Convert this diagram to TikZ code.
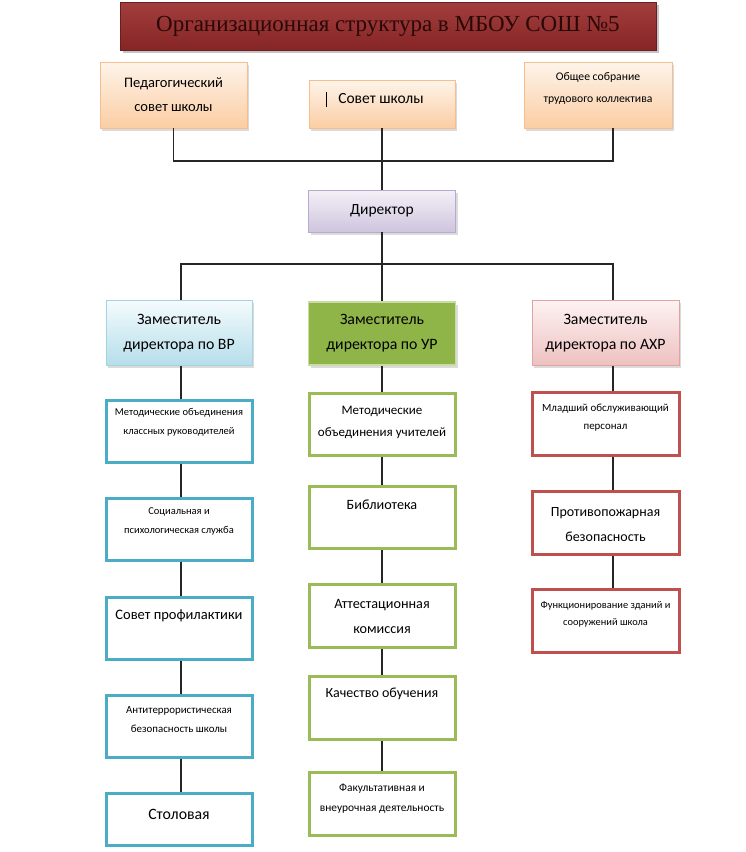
\documentclass[tikz,border=0pt]{standalone}
\usepackage{fontspec}
\setmainfont{Carlito}
\newfontfamily\titlefont{Liberation Serif}
\usetikzlibrary{shadows,calc}
\definecolor{peachA}{HTML}{FEF4EA}
\definecolor{peachB}{HTML}{FBCDA3}
\definecolor{peachD}{HTML}{F6BE8E}
\definecolor{lavA}{HTML}{F3F0F7}
\definecolor{lavB}{HTML}{CFC5DE}
\definecolor{lavD}{HTML}{B9AACD}
\definecolor{bluA}{HTML}{F4FBFD}
\definecolor{bluB}{HTML}{B5DEEA}
\definecolor{bluD}{HTML}{A2D4E2}
\definecolor{redA}{HTML}{FDF2F2}
\definecolor{redB}{HTML}{EDC1C0}
\definecolor{redD}{HTML}{DFA3A1}
\definecolor{grnF}{HTML}{8FB548}
\definecolor{grnD}{HTML}{C9DCA3}
\definecolor{ttlA}{HTML}{A23E3D}
\definecolor{ttlB}{HTML}{862525}
\definecolor{ttlT}{HTML}{2A0808}
\definecolor{cB}{HTML}{4BACC6}
\definecolor{cG}{HTML}{9BBB59}
\definecolor{cR}{HTML}{C0504D}
\newcommand{\fs}[2]{\fontsize{#1}{#2}\selectfont}
\begin{document}
\begin{tikzpicture}[x=1pt,y=-1pt,
  ln/.style={line width=1.4pt, black!85},
  sz/.style 2 args={minimum width=#1, minimum height=#2, inner sep=0pt, align=center},
  shad/.style={drop shadow={opacity=0.28, shadow xshift=2pt, shadow yshift=-2.5pt}},
  topbox/.style={draw=peachD, line width=0.8pt, top color=peachA, bottom color=peachB, shad},
  dirbox/.style={draw=lavD, line width=0.8pt, top color=lavA, bottom color=lavB, shad},
  vrbox/.style={draw=bluD, line width=0.8pt, top color=bluA, bottom color=bluB, shad},
  axbox/.style={draw=redD, line width=0.8pt, top color=redA, bottom color=redB, shad},
  urbox/.style={draw=grnD, line width=1.5pt, fill=grnF, shad},
  bbox/.style={draw=cB, line width=3pt, fill=white},
  gbox/.style={draw=cG, line width=3pt, fill=white},
  rbox/.style={draw=cR, line width=3pt, fill=white},
  lbl/.style={fill=none, draw=none, align=center, inner sep=0pt}
]
\useasboundingbox (0,0) rectangle (746,852);
\fill[white] (0,0) rectangle (746,852);

% title
\node[sz={536pt}{48pt}, top color=ttlA, bottom color=ttlB, draw=ttlB!80!black, line width=0.6pt,
  drop shadow={opacity=0.45, shadow xshift=3pt, shadow yshift=-3pt},
  text=ttlT, font=\titlefont\fs{23}{26}] (title) at (388,26) {Организационная структура в МБОУ СОШ №5};

% top row
\node[topbox, sz={147pt}{66pt}, font=\fs{14.5}{24}] (ped) at (173.5,95) {Педагогический\\совет школы};
\node[topbox, sz={146pt}{48pt}] (sov) at (382,104) {};
\node[lbl, font=\fs{15.5}{24}] (sovt) at (381,99) {Совет школы};
\draw[line width=1.6pt, black] ($(sov.north west)+(18,12)$) -- ($(sov.north west)+(18,27)$);
\node[topbox, sz={148pt}{66pt}] (obs) at (598,95) {};
\node[lbl, font=\fs{11.7}{22}] (obst) at (598,88) {Общее собрание\\трудового коллектива};

\coordinate (busA) at (382,161);
\coordinate (xR) at (613,0);
\draw[ln] (ped.south) -- (ped.south |- busA) -- (xR |- busA) -- (xR |- obs.south);
\draw[ln] (sov.south) -- (busA);

% director
\node[dirbox, sz={147pt}{42pt}, font=\fs{15.5}{24}] (dir) at (382,211) {Директор};
\draw[ln] (busA) -- (dir.north);

\coordinate (busB) at (382,264);
\coordinate (xL) at (181,0);
\coordinate (xR2) at (613,0);

% deputies
\node[vrbox, sz={146pt}{65pt}, font=\fs{15.8}{25}] (vr) at (179,333) {Заместитель\\директора по ВР};
\node[urbox, sz={147pt}{63pt}, font=\fs{15.8}{25}] (ur) at (382,333.5) {Заместитель\\директора по УР};
\node[axbox, sz={147pt}{65pt}, font=\fs{15.8}{25}] (ax) at (605.5,333) {Заместитель\\директора по АХР};

\draw[ln] (dir.south) -- (busB);
\draw[ln] (xL |- vr.north) -- (xL |- busB) -- (xR2 |- busB) -- (xR2 |- ax.north);
\draw[ln] (busB) -- (ur.north);

% left column
\node[bbox, sz={146pt}{62pt}] (l1) at (179,431) {};
\node[lbl, font=\fs{10.5}{19}] at (179,422) {Методические объединения\\классных руководителей};
\node[bbox, sz={146pt}{62pt}] (l2) at (179,529) {};
\node[lbl, font=\fs{10.5}{19}] at (179,521) {Социальная и\\психологическая служба};
\node[bbox, sz={146pt}{62pt}] (l3) at (179,628) {};
\node[lbl, font=\fs{14.5}{25}] at (179,616) {Совет профилактики};
\node[bbox, sz={146pt}{62pt}] (l4) at (179,726) {};
\node[lbl, font=\fs{10.9}{19}] at (179,719.5) {Антитеррористическая\\безопасность школы};
\node[bbox, sz={146pt}{52pt}] (l5) at (179,819.5) {};
\node[lbl, font=\fs{15.8}{25}] at (179,814) {Столовая};

\draw[ln] (xL |- vr.south) -- (xL |- l1.north);
\draw[ln] (xL |- l1.south) -- (xL |- l2.north);
\draw[ln] (xL |- l2.south) -- (xL |- l3.north);
\draw[ln] (xL |- l3.south) -- (xL |- l4.north);
\draw[ln] (xL |- l4.south) -- (xL |- l5.north);

% middle column
\node[gbox, sz={146pt}{62pt}] (m1) at (382,424) {};
\node[lbl, font=\fs{13}{22}] at (382,422) {Методические\\объединения учителей};
\node[gbox, sz={146pt}{62pt}] (m2) at (382,517.5) {};
\node[lbl, font=\fs{14.2}{24}] at (382,505) {Библиотека};
\node[gbox, sz={146pt}{63pt}] (m3) at (382,615.5) {};
\node[lbl, font=\fs{14.2}{25}] at (382,616.5) {Аттестационная\\комиссия};
\node[gbox, sz={146pt}{63pt}] (m4) at (382,707.5) {};
\node[lbl, font=\fs{14}{25}] at (382,694) {Качество обучения};
\node[gbox, sz={146pt}{63pt}] (m5) at (382,803.5) {};
\node[lbl, font=\fs{11.4}{20}] at (382,799) {Факультативная и\\внеурочная деятельность};

\draw[ln] (ur.south) -- (m1.north);
\draw[ln] (m1.south) -- (m2.north);
\draw[ln] (m2.south) -- (m3.north);
\draw[ln] (m3.south) -- (m4.north);
\draw[ln] (m4.south) -- (m5.north);

% right column
\node[rbox, sz={147pt}{63pt}] (r1) at (605.5,424) {};
\node[lbl, font=\fs{10.9}{18}] at (605.5,418) {Младший обслуживающий\\персонал};
\node[rbox, sz={147pt}{63pt}] (r2) at (605.5,522.5) {};
\node[lbl, font=\fs{14}{25}] at (605.5,524.5) {Противопожарная\\безопасность};
\node[rbox, sz={147pt}{63pt}] (r3) at (605.5,620.5) {};
\node[lbl, font=\fs{10.4}{17}] at (605.5,614.5) {Функционирование зданий и\\сооружений школа};

\draw[ln] (xR2 |- ax.south) -- (xR2 |- r1.north);
\draw[ln] (xR2 |- r1.south) -- (xR2 |- r2.north);
\draw[ln] (xR2 |- r2.south) -- (xR2 |- r3.north);
\end{tikzpicture}
\end{document}
